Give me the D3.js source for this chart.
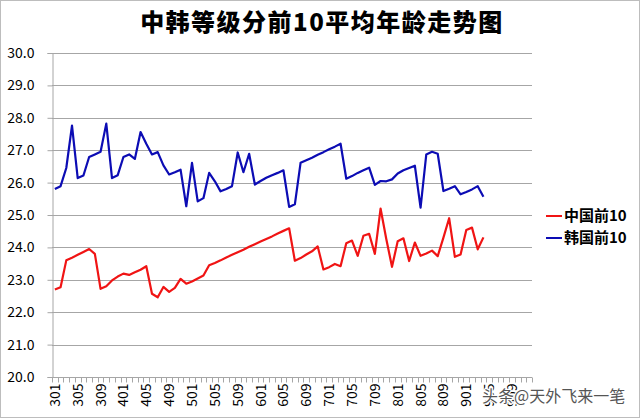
<!DOCTYPE html>
<html><head><meta charset="utf-8">
<script src="https://cdn.jsdelivr.net/npm/d3@7"></script>
<style>html,body{margin:0;padding:0;background:#fff;}svg{display:block;}</style>
</head><body>
<script>
// ---- data ----
const years = [3,4,5,6,7,8,9];
const months = ["01","02","03","04","05","06","07","08","09","10","11","12"];
const categories = [];
years.forEach(y => months.forEach(m => categories.push(y + m)));
const chinaTop10 = [22.70,22.77,23.60,23.68,23.77,23.86,23.95,23.80,22.72,22.80,22.98,23.10,
  23.19,23.15,23.23,23.31,23.42,22.57,22.46,22.78,22.63,22.75,23.03,22.88,
  22.95,23.04,23.13,23.45,23.52,23.60,23.69,23.77,23.85,23.93,24.02,24.10,
  24.18,24.26,24.34,24.43,24.51,24.59,23.59,23.67,23.78,23.88,24.03,23.32,
  23.39,23.49,23.42,24.13,24.21,23.74,24.36,24.42,23.80,25.20,24.26,23.40,
  24.19,24.28,23.58,24.15,23.74,23.81,23.90,23.73,24.30,24.90,23.71,23.78,
  24.54,24.61,23.94,24.31];
const koreaTop10 = [25.80,25.89,26.45,27.76,26.14,26.22,26.79,26.87,26.95,27.82,26.14,26.23,
  26.79,26.87,26.73,27.56,27.20,26.87,26.94,26.53,26.25,26.32,26.40,25.27,
  26.61,25.42,25.52,26.30,26.04,25.73,25.80,25.89,26.93,26.32,26.89,25.94,
  26.05,26.15,26.23,26.30,26.38,25.25,25.33,26.61,26.69,26.77,26.86,26.94,
  27.03,27.11,27.20,26.12,26.20,26.30,26.38,26.46,25.93,26.05,26.04,26.10,
  26.28,26.38,26.45,26.52,25.23,26.87,26.95,26.89,25.74,25.81,25.89,25.64,
  25.71,25.79,25.89,25.56];
const seriesNames = ["中国前10","韩国前10"];
const yTicks = [20,21,22,23,24,25,26,27,28,29,30];
const titleText = "中韩等级分前10平均年龄走势图";
const watermark = "头条@天外飞来一笔";

// ---- layout ----
const W = 640, H = 418;
const L = 52, R = 532, T = 53, B = 377;
const colors = ["#f01414", "#0c0cb4"];
const font = "'Noto Sans CJK SC','Noto Sans',sans-serif";

const svg = d3.select("body").append("svg").attr("width", W).attr("height", H);
svg.append("rect").attr("x",0.5).attr("y",0.5).attr("width",W-1).attr("height",H-1)
  .attr("fill","#fff").attr("stroke","#bdbdbd");

const x = d3.scaleBand().domain(categories).range([L, R]).padding(0);
const y = d3.scaleLinear().domain([20, 30]).range([B, T]);
const cx = c => x(c) + x.bandwidth() / 2;

// gridlines
svg.append("g").selectAll("line").data(yTicks).join("line")
  .attr("x1", L).attr("x2", R).attr("y1", d => Math.round(y(d)) + 0.5).attr("y2", d => Math.round(y(d)) + 0.5)
  .attr("stroke", "#a6a6a6").attr("stroke-width", 1);

// y axis
const yAxis = svg.append("g").attr("transform", `translate(${L + 0.5},0)`)
  .call(d3.axisLeft(y).tickValues(yTicks).tickFormat(d3.format(".1f")).tickSize(5).tickPadding(13));
yAxis.select(".domain").attr("stroke", "#a6a6a6");
yAxis.selectAll(".tick line").attr("stroke", "#a6a6a6");
yAxis.selectAll("text").attr("font-family", font).attr("font-size", 14).attr("fill", "#000");

// x axis
const xAxis = svg.append("g").attr("transform", `translate(0,${B + 0.5})`);
xAxis.append("line").attr("x1", L).attr("x2", R).attr("stroke", "#a6a6a6");
const bounds = categories.map(c => x(c)).concat([R]);
xAxis.selectAll("line.tk").data(bounds).join("line").attr("class","tk")
  .attr("x1", d => Math.round(d) + 0.5).attr("x2", d => Math.round(d) + 0.5)
  .attr("y1", 0).attr("y2", 5).attr("stroke", "#a6a6a6");
xAxis.selectAll("text").data(categories.filter((c, i) => i % 4 === 0)).join("text")
  .attr("transform", d => `translate(${cx(d)},6) rotate(-90)`)
  .attr("text-anchor", "end").attr("dy", "0.36em")
  .attr("font-family", font).attr("font-size", 14).attr("fill", "#000")
  .text(d => d);

// lines
const line = d3.line().x((d, i) => cx(categories[i])).y(d => y(d));
[chinaTop10, koreaTop10].forEach((s, k) => {
  svg.append("path").datum(s).attr("d", line).attr("fill", "none")
    .attr("stroke", colors[k]).attr("stroke-width", 2.2).attr("stroke-linejoin", "round");
});

// legend
seriesNames.forEach((n, k) => {
  const ly = 216 + k * 22;
  svg.append("line").attr("x1", 546).attr("x2", 562).attr("y1", ly).attr("y2", ly)
    .attr("stroke", colors[k]).attr("stroke-width", 2);
  svg.append("text").attr("x", 564).attr("y", ly).attr("dy", "0.36em")
    .attr("font-family", font).attr("font-size", 15).attr("font-weight", 700).text(n);
});

// title
svg.append("text").attr("x", 322).attr("y", 22).attr("dy", "0.36em").attr("text-anchor", "middle")
  .attr("font-family", font).attr("font-size", 24).attr("font-weight", 900)
  .attr("letter-spacing", 1.5).text(titleText);

// watermark
svg.append("text").attr("x", 482).attr("y", 396).attr("dy", "0.36em")
  .attr("font-family", font).attr("font-size", 16).attr("fill", "#555")
  .attr("stroke", "#fff").attr("stroke-width", 2.5).attr("paint-order", "stroke")
  .text(watermark);
</script>
</body></html>
